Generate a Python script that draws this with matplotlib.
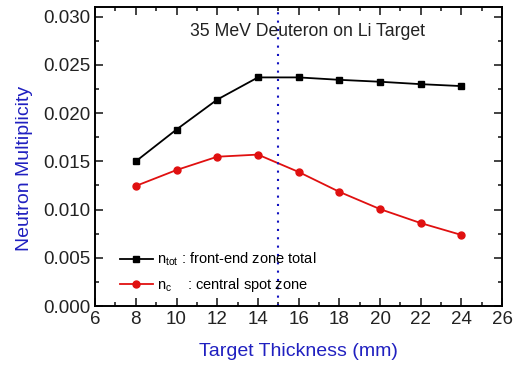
import numpy as np
from matplotlib import pyplot as plt

plt.rcParams['font.family'] = ['Liberation Sans', 'DejaVu Sans']
plt.rcParams['mathtext.default'] = 'regular'

thickness = [8, 10, 12, 14, 16, 18, 20, 22, 24]
n_tot = [0.0150, 0.0183, 0.0214, 0.0237, 0.0237, 0.02345, 0.02325, 0.0230, 0.0228]
n_c = [0.01245, 0.0141, 0.01548, 0.0157, 0.0139, 0.01184, 0.01005, 0.0086, 0.00737]
tick_x = [6, 8, 10, 12, 14, 16, 18, 20, 22, 24, 26]
tick_y = [0.000, 0.005, 0.010, 0.015, 0.020, 0.025, 0.030]

fig = plt.figure(figsize=(5.14, 3.67), dpi=100)
ax = fig.add_axes([0.185, 0.166, 0.792, 0.815])

ax.plot(thickness, n_tot, color="k", marker="s", markersize=5, lw=1.3,
        label="$n_{tot}$ : front-end zone total")
ax.plot(thickness, n_c, color="#e01010", marker="o", markersize=5, lw=1.3,
        label="$n_{c}$    : central spot zone")
ax.axvline(15, color="#1010c0", linestyle=(0, (1, 3)), lw=1.5)

ax.set_xlim(6, 26)
ax.set_ylim(0, 0.031)
ax.set_xticks(tick_x)
ax.set_yticks(tick_y)
ax.set_yticklabels(["%.3f" % v for v in tick_y])
ax.set_xticks(np.arange(7, 26, 2), minor=True)
ax.set_yticks(np.arange(0.0025, 0.031, 0.005), minor=True)
ax.tick_params(which="both", direction="in", top=True, right=True,
               labeltop=False, labelright=False, labelsize=13.5, width=1.2, colors="#222222")
ax.tick_params(which="major", length=6)
ax.tick_params(which="minor", length=3)
for s in ax.spines.values():
    s.set_linewidth(1.4)

ax.set_xlabel("Target Thickness (mm)", color="#2020c0", fontsize=14, labelpad=11)
ax.set_ylabel("Neutron Multiplicity", color="#2020c0", fontsize=14)
ax.yaxis.set_label_coords(-0.152, 0.46)
ax.text(0.523, 0.918, "35 MeV Deuteron on Li Target", transform=ax.transAxes,
        ha="center", va="center", fontsize=12.7, color="#222222")

ax.legend(loc="lower left", bbox_to_anchor=(0.03, -0.005), frameon=False, fontsize=10.5,
          handlelength=2.2, handletextpad=0.3, labelspacing=0.55)

plt.savefig("out.png")
